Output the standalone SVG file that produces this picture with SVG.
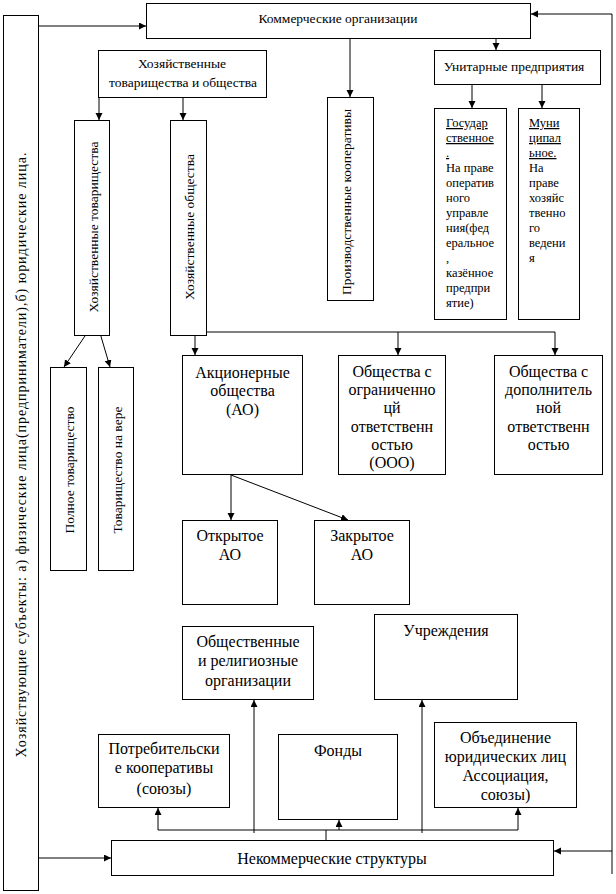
<svg xmlns="http://www.w3.org/2000/svg" width="616" height="894" viewBox="0 0 616 894" font-family="'Liberation Serif', 'DejaVu Serif', serif">
<style>
rect{fill:#fff;stroke:#000;stroke-width:1}
line,polyline{stroke:#000;stroke-width:1;fill:none}
.a{marker-end:url(#ah)}
text{font-family:'Liberation Serif','DejaVu Serif',serif;fill:#000}
.s{font-size:13.5px;text-anchor:middle}
.v{font-size:13.5px;text-anchor:middle;dominant-baseline:central}
.b{font-size:16px;text-anchor:middle}
.g{font-size:12.5px}
.u{text-decoration:underline}
</style>
<defs>
<marker id="ah" markerUnits="userSpaceOnUse" markerWidth="8" markerHeight="8" refX="7" refY="3.5" orient="auto">
<path d="M0,0 L7,3.5 L0,7 z" fill="#000"/>
</marker>
</defs>
<rect x="0" y="0" width="616" height="894" style="stroke:none"/>

<g id="connectors">
<line class="a" x1="39" y1="26" x2="146" y2="26"/>
<polyline class="a" points="612,874 612,14 531,14"/>
<line class="a" x1="612" y1="851" x2="554" y2="851"/>
<line class="a" x1="39" y1="858" x2="111" y2="858"/>
<line class="a" x1="350" y1="38" x2="350" y2="97"/>
<line class="a" x1="496" y1="38" x2="496" y2="50"/>
<line class="a" x1="99" y1="98" x2="99" y2="120"/>
<line class="a" x1="183" y1="98" x2="183" y2="120"/>
<line class="a" x1="472" y1="85" x2="472" y2="108"/>
<line class="a" x1="542" y1="85" x2="542" y2="108"/>
<line class="a" x1="87" y1="333" x2="64" y2="367"/>
<line class="a" x1="100" y1="333" x2="110" y2="367"/>
<line x1="195" y1="332" x2="555" y2="332"/>
<line class="a" x1="195" y1="332" x2="195" y2="355"/>
<line class="a" x1="398" y1="332" x2="398" y2="355"/>
<line class="a" x1="555" y1="332" x2="555" y2="355"/>
<line class="a" x1="231" y1="475" x2="231" y2="520"/>
<line class="a" x1="231" y1="475" x2="348" y2="520"/>
<line x1="326" y1="840" x2="326" y2="830"/>
<line x1="158" y1="830" x2="518" y2="830"/>
<line class="a" x1="158" y1="830" x2="158" y2="808"/>
<line class="a" x1="339" y1="830" x2="339" y2="820"/>
<line class="a" x1="518" y1="830" x2="518" y2="808"/>
<line class="a" x1="254" y1="833" x2="254" y2="700"/>
<line class="a" x1="422" y1="833" x2="422" y2="700"/>
</g>

<g id="subjects">
<rect x="3.5" y="15.5" width="35" height="875"/>
<text class="v" style="font-size:14px" x="21" y="455" transform="rotate(-90 21 455)" textLength="605" lengthAdjust="spacing">Хозяйствующие субъекты: а) физические лица(предприниматели),б) юридические лица.</text>
</g>

<g id="commercial">
<rect x="146.5" y="3.5" width="384" height="35"/>
<text class="s" x="338" y="23">Коммерческие организации</text>
</g>

<g id="partnerships-companies">
<rect x="98.5" y="50.5" width="168" height="47"/>
<text class="s" x="182" y="68">Хозяйственные</text>
<text class="s" x="183" y="87">товарищества и общества</text>
</g>

<g id="partnerships">
<rect x="74.5" y="120.5" width="35" height="215"/>
<text class="v" x="93" y="227" transform="rotate(-90 93 227)">Хозяйственные товарищества</text>
</g>

<g id="companies">
<rect x="170.5" y="120.5" width="36" height="215"/>
<text class="v" x="189" y="227" transform="rotate(-90 189 227)">Хозяйственные общества</text>
</g>

<g id="coops">
<rect x="327.5" y="97.5" width="46" height="203"/>
<text class="v" x="346" y="202" transform="rotate(-90 346 202)">Производственные кооперативы</text>
</g>

<g id="unitary">
<rect x="434.5" y="50.5" width="166" height="34"/>
<text class="s" x="514" y="71">Унитарные предприятия</text>
</g>

<g id="state">
<rect x="434.5" y="108.5" width="72" height="211"/>
<text class="g" x="446">
<tspan class="u" x="446" y="127">Государ</tspan>
<tspan class="u" x="446" y="142">ственное</tspan>
<tspan class="u" x="446" y="157">.</tspan>
<tspan x="446" y="172">На праве</tspan>
<tspan x="446" y="187">оператив</tspan>
<tspan x="446" y="202">ного</tspan>
<tspan x="446" y="217">управле</tspan>
<tspan x="446" y="232">ния(фед</tspan>
<tspan x="446" y="247">еральное</tspan>
<tspan x="446" y="262">,</tspan>
<tspan x="446" y="277">казённое</tspan>
<tspan x="446" y="292">предпри</tspan>
<tspan x="446" y="307">ятие)</tspan>
</text>
</g>

<g id="municipal">
<rect x="518.5" y="108.5" width="61" height="211"/>
<text class="g" x="529">
<tspan class="u" x="529" y="127">Муни</tspan>
<tspan class="u" x="529" y="142">ципал</tspan>
<tspan class="u" x="529" y="157">ьное.</tspan>
<tspan x="529" y="172">На</tspan>
<tspan x="529" y="187">праве</tspan>
<tspan x="529" y="202">хозяйс</tspan>
<tspan x="529" y="217">твенно</tspan>
<tspan x="529" y="232">го</tspan>
<tspan x="529" y="247">ведени</tspan>
<tspan x="529" y="262">я</tspan>
</text>
</g>

<g id="full-partnership">
<rect x="50.5" y="367.5" width="36" height="203"/>
<text class="v" x="69" y="470" transform="rotate(-90 69 470)">Полное товарищество</text>
</g>

<g id="limited-partnership">
<rect x="98.5" y="367.5" width="35" height="203"/>
<text class="v" x="117" y="470" transform="rotate(-90 117 470)">Товарищество на вере</text>
</g>

<g id="joint-stock">
<rect x="182.5" y="355.5" width="120" height="119"/>
<text class="b" x="242.5" y="378">Акционерные</text>
<text class="b" x="242.5" y="396">общества</text>
<text class="b" x="242.5" y="415">(АО)</text>
</g>

<g id="llc">
<rect x="338.5" y="355.5" width="107" height="119"/>
<text class="b" x="392" y="377">Общества с</text>
<text class="b" x="392" y="395">ограниченно</text>
<text class="b" x="392" y="413">цй</text>
<text class="b" x="392" y="432">ответственн</text>
<text class="b" x="392" y="450">остью</text>
<text class="b" x="392" y="468">(ООО)</text>
</g>

<g id="alc">
<rect x="494.5" y="355.5" width="108" height="119"/>
<text class="b" x="548.5" y="377">Общества с</text>
<text class="b" x="548.5" y="395">дополнитель</text>
<text class="b" x="548.5" y="413">ной</text>
<text class="b" x="548.5" y="432">ответственн</text>
<text class="b" x="548.5" y="450">остью</text>
</g>

<g id="open-jsc">
<rect x="182.5" y="520.5" width="95" height="84"/>
<text class="b" x="230" y="541">Открытое</text>
<text class="b" x="230" y="560">АО</text>
</g>

<g id="closed-jsc">
<rect x="314.5" y="520.5" width="95" height="84"/>
<text class="b" x="362" y="541">Закрытое</text>
<text class="b" x="362" y="560">АО</text>
</g>

<g id="public-religious">
<rect x="182.5" y="626.5" width="131" height="73"/>
<text class="b" x="248" y="647">Общественные</text>
<text class="b" x="248" y="666">и религиозные</text>
<text class="b" x="248" y="686">организации</text>
</g>

<g id="institutions">
<rect x="374.5" y="614.5" width="143" height="85"/>
<text class="b" x="446" y="636">Учреждения</text>
</g>

<g id="consumer-coops">
<rect x="98.5" y="734.5" width="131" height="73"/>
<text class="b" x="164" y="754">Потребительски</text>
<text class="b" x="164" y="773">е кооперативы</text>
<text class="b" x="164" y="794">(союзы)</text>
</g>

<g id="funds">
<rect x="278.5" y="734.5" width="119" height="85"/>
<text class="b" x="338" y="756">Фонды</text>
</g>

<g id="associations">
<rect x="434.5" y="722.5" width="142" height="85"/>
<text class="b" x="505.5" y="743">Объединение</text>
<text class="b" x="505.5" y="762">юридических лиц</text>
<text class="b" x="505.5" y="781">Ассоциация,</text>
<text class="b" x="505.5" y="800">союзы)</text>
</g>

<g id="noncommercial">
<rect x="111.5" y="840.5" width="442" height="35"/>
<text class="b" x="332" y="864">Некоммерческие структуры</text>
</g>
</svg>
